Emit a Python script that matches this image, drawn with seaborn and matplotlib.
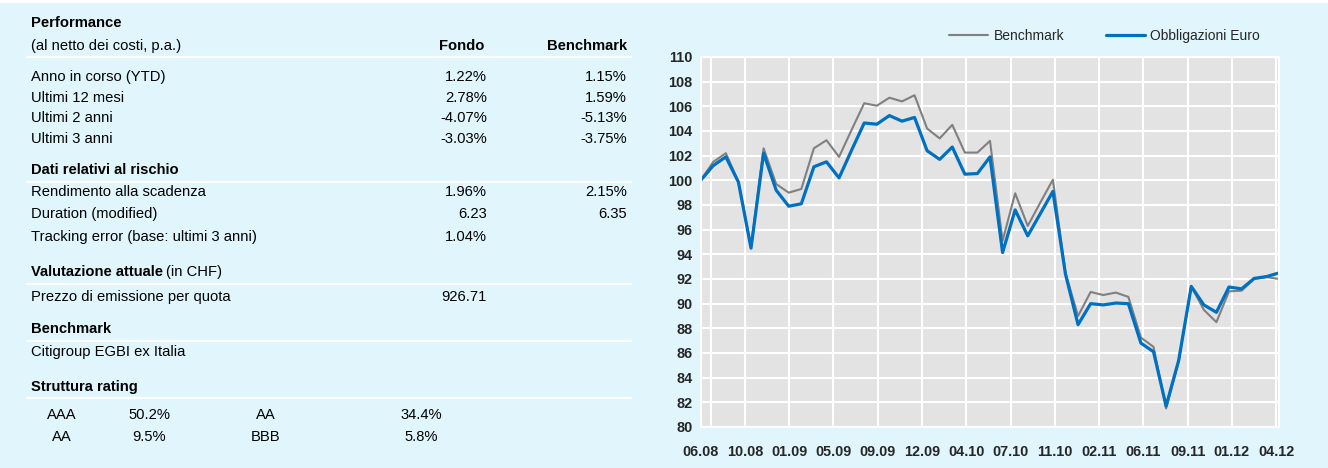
import numpy as np
import pandas as pd
import matplotlib
matplotlib.use("Agg")
import matplotlib.pyplot as plt
from matplotlib.lines import Line2D
from matplotlib.patches import Rectangle
import seaborn as sns

# ---- chart data (monthly index, base 100) ----
benchmark = [100.0, 101.5, 102.2, 99.9, 94.6, 102.6, 99.7, 99.0, 99.3, 102.6,
             103.25, 101.9, 104.1, 106.25, 106.05, 106.7, 106.4, 106.9, 104.2, 103.4,
             104.5, 102.25, 102.25, 103.2, 95.1, 98.95, 96.3, 98.2, 100.05, 92.5,
             89.0, 90.95, 90.7, 90.9, 90.55, 87.25, 86.5, 81.5, 85.3, 91.4,
             89.5, 88.5, 91.0, 91.05, 92.0, 92.15, 92.0]
fondo = [100.0, 101.2, 101.9, 99.85, 94.5, 102.2, 99.2, 97.9, 98.1, 101.1,
         101.5, 100.2, 102.45, 104.65, 104.55, 105.25, 104.8, 105.1, 102.4, 101.7,
         102.7, 100.5, 100.55, 101.9, 94.15, 97.6, 95.5, 97.3, 99.1, 92.4,
         88.3, 90.0, 89.9, 90.05, 90.0, 86.8, 86.1, 81.7, 85.4, 91.4,
         89.9, 89.3, 91.35, 91.2, 92.05, 92.2, 92.5]
tick_labels = ["06.08", "10.08", "01.09", "05.09", "09.09", "12.09", "04.10",
               "07.10", "11.10", "02.11", "06.11", "09.11", "01.12", "04.12"]
series_names = ["Benchmark", "Obbligazioni Euro"]

# ---- table data ----
perf_rows = ["Anno in corso (YTD)", "Ultimi 12 mesi", "Ultimi 2 anni", "Ultimi 3 anni"]
perf_fondo = ["1.22%", "2.78%", "-4.07%", "-3.03%"]
perf_bench = ["1.15%", "1.59%", "-5.13%", "-3.75%"]
risk_rows = ["Rendimento alla scadenza", "Duration (modified)",
             "Tracking error (base: ultimi 3 anni)"]
risk_fondo = ["1.96%", "6.23", "1.04%"]
risk_bench = ["2.15%", "6.35", ""]
rating_a = ["AAA", "AA"]
rating_a_pct = ["50.2%", "9.5%"]
rating_b = ["AA", "BBB"]
rating_b_pct = ["34.4%", "5.8%"]

W, H = 1328, 468
bg = "#E0F6FC"
gray = "#808080"
blue = "#0070C0"

sns.set_style("darkgrid", {"axes.facecolor": "#E3E3E3", "grid.color": "white"})
plt.rcParams["font.family"] = ["Liberation Sans", "DejaVu Sans"]

fig = plt.figure(figsize=(W / 100, H / 100), dpi=100, facecolor=bg)
fig.add_artist(Rectangle((0, 1 - 3 / H), 1, 3 / H, transform=fig.transFigure,
                         facecolor="white", edgecolor="none"))


def put(x, y, s, **kw):
    kw.setdefault("fontsize", 10.6)
    kw.setdefault("va", "center")
    fig.text(x / W, 1 - y / H, s, color="black", **kw)


def sep(y):
    fig.add_artist(Line2D([27 / W, 631 / W], [1 - y / H, 1 - y / H],
                          transform=fig.transFigure, color="white", lw=1.6))


# Performance
put(31, 23, "Performance", fontweight="bold")
put(31, 46, "(al netto dei costi, p.a.)")
put(484, 46, "Fondo", fontweight="bold", ha="right")
put(627, 46, "Benchmark", fontweight="bold", ha="right")
sep(57)
for i, lab in enumerate(perf_rows):
    y = 77 + i * 20.7
    put(31, y, lab)
    put(487, y, perf_fondo[i], ha="right")
    put(627, y, perf_bench[i], ha="right")

# Rischio
put(31, 170, "Dati relativi al rischio", fontweight="bold")
sep(182)
for i, lab in enumerate(risk_rows):
    y = 192 + i * 22.5
    put(31, y, lab)
    put(487, y, risk_fondo[i], ha="right")
    put(627, y, risk_bench[i], ha="right")

# Valutazione
put(31, 272, "Valutazione attuale", fontweight="bold")
put(166, 272, "(in CHF)")
sep(284)
put(31, 297, "Prezzo di emissione per quota")
put(487, 297, "926.71", ha="right")

# Benchmark
put(31, 329, "Benchmark", fontweight="bold")
sep(341)
put(31, 352, "Citigroup EGBI ex Italia")

# Rating
put(31, 387, "Struttura rating", fontweight="bold")
sep(398)
for i in range(2):
    y = 415 + i * 22
    put(62, y, rating_a[i], ha="center")
    put(149, y, rating_a_pct[i], ha="center")
    put(266, y, rating_b[i], ha="center")
    put(421, y, rating_b_pct[i], ha="center")

# ---- line chart ----
df = pd.DataFrame({"Mese": np.arange(len(fondo)),
                   "Benchmark": benchmark,
                   "Obbligazioni Euro": fondo})

ax = fig.add_axes([700.7 / W, 41 / H, 578.6 / W, 370 / H])
sns.lineplot(data=df, x="Mese", y="Benchmark", color=gray, lw=1.5, ax=ax,
             label=series_names[0])
sns.lineplot(data=df, x="Mese", y="Obbligazioni Euro", color=blue, lw=2.3, ax=ax,
             label=series_names[1])

n = len(fondo) - 1
ax.set_xlim(0, n)
ax.set_ylim(80, 110)
ax.set_yticks(np.arange(80, 111, 2))
ax.set_xticks(np.linspace(0, n - 0.25, len(tick_labels)))
ax.set_xticklabels(tick_labels)
ax.set_xticks([0.8], minor=True)
ax.grid(True, which="both", color="white", lw=1.5)
ax.set_xlabel("")
ax.set_ylabel("")
ax.tick_params(axis="both", length=0, labelsize=10.4)
ax.tick_params(axis="x", pad=13)
ax.tick_params(axis="y", pad=6)
for t in ax.get_xticklabels() + ax.get_yticklabels():
    t.set_fontweight("bold")
for sp in ax.spines.values():
    sp.set_visible(True)
    sp.set_color("white")
    sp.set_linewidth(1.5)

ax.legend(loc="center left", bbox_to_anchor=(942 / W, 1 - 36 / H),
          bbox_transform=fig.transFigure, ncol=2, frameon=False,
          borderpad=0, handlelength=2.8, handletextpad=0.4, columnspacing=3.0,
          prop={"size": 10})

fig.savefig("out.png", dpi=100, facecolor=bg)
